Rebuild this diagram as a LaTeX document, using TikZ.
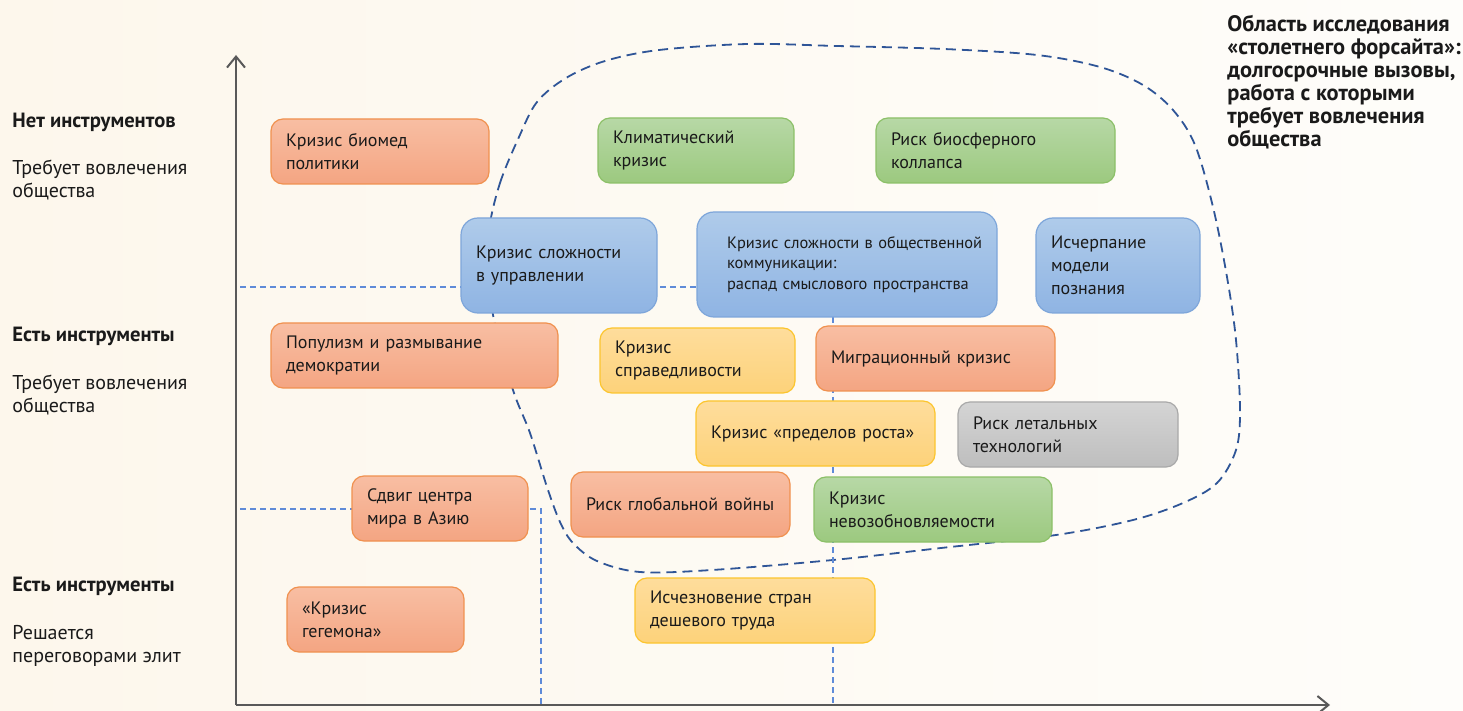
\documentclass[tikz,border=0pt]{standalone}
\usepackage{fontspec}
\setmainfont{PT Sans}
\usetikzlibrary{arrows.meta}

\definecolor{bgL}{HTML}{FDF7EC}
\definecolor{bgR}{HTML}{FEFDFA}
\definecolor{axisc}{HTML}{595959}
\definecolor{guidec}{HTML}{5F8BD8}
\definecolor{zonec}{HTML}{2F5597}
\definecolor{txt}{HTML}{1A1A1A}
% box palettes: top, bottom, border
\definecolor{orT}{HTML}{F8BEA3}\definecolor{orB}{HTML}{F4A582}\definecolor{orD}{HTML}{F0914F}
\definecolor{grT}{HTML}{B7D8A6}\definecolor{grB}{HTML}{9CC97F}\definecolor{grD}{HTML}{8CC068}
\definecolor{blT}{HTML}{AFCBEA}\definecolor{blB}{HTML}{8FB4E3}\definecolor{blD}{HTML}{7EA6DA}
\definecolor{ylT}{HTML}{FEDD9C}\definecolor{ylB}{HTML}{FDD27A}\definecolor{ylD}{HTML}{FCC52E}
\definecolor{gyT}{HTML}{D4D4D4}\definecolor{gyB}{HTML}{BEBEBE}\definecolor{gyD}{HTML}{A9A9A9}

\tikzset{
  crisis/.style={rectangle, rounded corners=6pt, line width=0.6pt, inner ysep=0pt,
    align=left, text=txt, font=\fontsize{9}{11.5}\selectfont},
  orangebox/.style={crisis, draw=orD, top color=orT, bottom color=orB},
  greenbox/.style={crisis, draw=grD, top color=grT, bottom color=grB},
  bluebox/.style={crisis, rounded corners=8.5pt, draw=blD, top color=blT, bottom color=blB},
  yellowbox/.style={crisis, draw=ylD, top color=ylT, bottom color=ylB},
  graybox/.style={crisis, draw=gyD, top color=gyT, bottom color=gyB},
  axisline/.style={draw=axisc, line width=1pt, -{Straight Barb[length=5.5pt, width=9pt, line width=1pt]}},
  guide/.style={draw=guidec, line width=0.65pt, dash pattern=on 3pt off 2pt},
  zone/.style={draw=zonec, line width=0.9pt, dash pattern=on 5pt off 3pt},
  heading/.style={anchor=base west, inner sep=0pt, text=txt, font=\fontsize{10.3}{11.5}\selectfont\bfseries},
  note/.style={anchor=base west, inner sep=0pt, text=txt, align=left, font=\fontsize{10}{11.5}\selectfont},
}

% \cbox[padding px]{name}{style}{x1}{y1}{x2}{y2}{text}; coordinates in px
\newcommand\cbox[8][15]{%
  \pgfmathsetmacro\bw{(#6-#4)/2}%
  \pgfmathsetmacro\bh{(#7-#5)/2}%
  \pgfmathsetmacro\tw{(#6-#4)/2-#1}%
  \node[#3, minimum width=\bw pt, minimum height=\bh pt, inner xsep=#1pt/2,
        text width=\tw pt] (#2) at ({(#4+#6)/2},{(#5+#7)/2}) {#8};%
}

\begin{document}
\begin{tikzpicture}[x=0.5pt, y=-0.5pt]
\useasboundingbox (0,0) rectangle (1463,711);
\shade[left color=bgL, right color=bgR] (0,0) rectangle (1463,711);

% axes
\coordinate (origin) at (236,705);
\coordinate (ytop) at (236,55);
\coordinate (xend) at (1330,705);
\draw[axisline] (origin) -- (ytop);
\draw[axisline] (origin) -- (xend);

% zone of the century-long foresight
\draw[zone] plot[smooth cycle, tension=0.55] coordinates {
  (489,230) (500,183) (519,137) (537,102) (566,78) (605,61) (659,50) (748,44)
  (837,46) (944,49) (1037,55) (1100,67) (1143,85) (1173,110) (1195,145)
  (1213,207) (1227,277) (1236,340) (1240,410) (1236,450) (1217,483) (1183,503)
  (1133,520) (1056,535) (941,548) (833,560) (712,570) (640,572) (597,561)
  (573,543) (560,522) (547,487) (530,433) (513,390) (494,320) (489,275)};

% level guides
\coordinate (g1) at (240,287);
\coordinate (g2) at (240,509);
\coordinate (g2c) at (541,509);
\coordinate (g2e) at (541,705);
\coordinate (g3) at (833,317);
\coordinate (g3e) at (833,705);
\draw[guide] (g1) -- (697,287);
\draw[guide] (g2) -- (g2c) -- (g2e);
\draw[guide] (g3) -- (g3e);

% challenges
\cbox{biomed}{orangebox}{271}{119}{489}{184}{Кризис биомед\\политики}
\cbox{climate}{greenbox}{598}{118}{794}{183}{Климатический\\кризис}
\cbox{biosphere}{greenbox}{876}{118}{1115}{183}{Риск биосферного\\коллапса}
\cbox{govern}{bluebox}{461}{218}{657}{313}{Кризис сложности\\в управлении}
\cbox[30]{commun}{bluebox, font=\fontsize{8.2}{10.3}\selectfont}{697}{212}{997}{317}{\mbox{Кризис сложности в общественной}\\\mbox{коммуникации:}\\\mbox{распад смыслового пространства}}
\cbox{cognition}{bluebox}{1036}{218}{1200}{313}{Исчерпание\\модели\\познания}
\cbox{populism}{orangebox}{271}{323}{558}{388}{Популизм и размывание\\демократии}
\cbox{justice}{yellowbox}{600}{328}{795}{393}{Кризис\\справедливости}
\cbox{migration}{orangebox}{816}{326}{1055}{391}{Миграционный кризис}
\cbox{limits}{yellowbox}{696}{401}{935}{466}{Кризис «пределов роста»}
\cbox{lethal}{graybox}{958}{402}{1178}{467}{Риск летальных\\технологий}
\cbox{asia}{orangebox}{352}{476}{528}{541}{Сдвиг центра\\мира в Азию}
\cbox{war}{orangebox}{571}{472}{790}{537}{Риск глобальной войны}
\cbox{nonrenew}{greenbox}{814}{477}{1052}{542}{Кризис\\невозобновляемости}
\cbox{hegemon}{orangebox}{287}{587}{464}{652}{«Кризис\\гегемона»}
\cbox{cheaplabor}{yellowbox}{635}{578}{875}{643}{Исчезновение стран\\дешевого труда}

% level captions (base = baseline of the last line)
\node[heading] (lvl1) at (12,128) {Нет инструментов};
\node[note] (lvl1n) at (12,198) {Требует вовлечения\\общества};
\node[heading] (lvl2) at (12,342) {Есть инструменты};
\node[note] (lvl2n) at (12,413) {Требует вовлечения\\общества};
\node[heading] (lvl3) at (12,591) {Есть инструменты};
\node[note] (lvl3n) at (12,662) {Решается\\переговорами элит};

% zone caption
\node[anchor=base west, inner sep=0pt, text=txt, align=left,
      font=\fontsize{11.2}{11.5}\selectfont\bfseries] (zonecap) at (1227,147)
  {Область исследования\\«столетнего форсайта»:\\долгосрочные вызовы,\\работа с которыми\\требует вовлечения\\общества};
\end{tikzpicture}
\end{document}
